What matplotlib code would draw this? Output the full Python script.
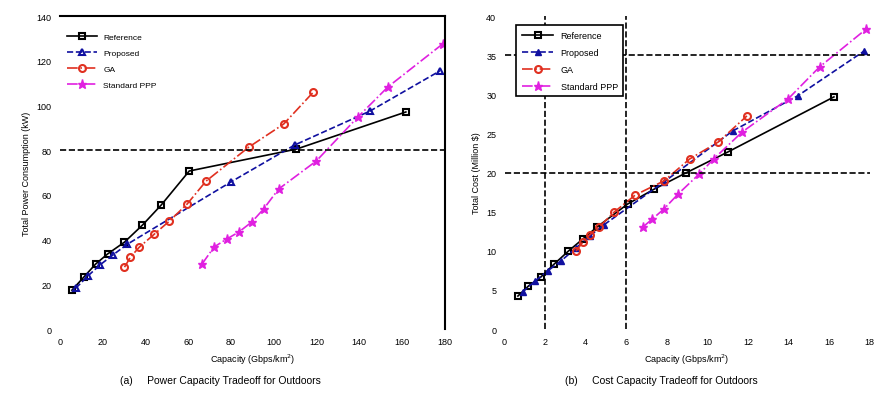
import matplotlib
matplotlib.use("Agg")
import matplotlib.pyplot as plt

plt.rcParams['font.family'] = ['Liberation Sans', 'DejaVu Sans']

labels = ["Reference", "Proposed", "GA", "Standard PPP"]

# (a) power vs capacity
pa_ref_x = [5.6, 11.2, 16.7, 22.3, 30.2, 38.6, 47.4, 60.5, 110.7, 161.9]
pa_ref_y = [17.4, 23.3, 29.1, 33.6, 38.9, 46.5, 55.5, 70.7, 80.5, 97.1]
pa_pro_x = [7.4, 13.0, 18.6, 24.7, 31.6, 80.0, 109.8, 145.1, 177.7]
pa_pro_y = [18.3, 23.7, 28.6, 33.1, 38.0, 65.8, 82.3, 97.5, 115.4]
pa_ga_x = [30.2, 33.0, 37.2, 44.2, 51.2, 59.5, 68.4, 88.4, 104.7, 118.6]
pa_ga_y = [27.7, 32.2, 36.7, 42.5, 48.3, 55.9, 66.2, 81.4, 91.7, 106.0]
pa_ppp_x = [66.5, 72.1, 78.1, 83.7, 89.8, 95.3, 102.3, 120.0, 139.5, 153.5, 179.1]
pa_ppp_y = [29.1, 36.7, 40.3, 43.4, 47.9, 53.7, 62.6, 75.2, 94.9, 108.3, 127.5]

# (b) cost vs capacity
pb_ref_x = [0.66, 1.18, 1.79, 2.45, 3.15, 3.86, 4.56, 6.07, 7.39, 8.94, 11.01, 16.24]
pb_ref_y = [4.22, 5.50, 6.65, 8.31, 9.97, 11.51, 13.04, 15.98, 17.90, 19.95, 22.63, 29.67]
pb_pro_x = [0.89, 1.51, 2.12, 2.78, 3.53, 4.19, 4.89, 7.86, 11.25, 14.45, 17.74]
pb_pro_y = [4.73, 6.14, 7.42, 8.70, 10.36, 11.89, 13.30, 18.80, 25.32, 29.80, 35.55]
pb_ga_x = [3.53, 3.86, 4.19, 4.66, 5.41, 6.45, 7.86, 9.13, 10.54, 11.95]
pb_ga_y = [9.97, 11.13, 12.02, 13.04, 14.96, 17.14, 18.93, 21.74, 23.91, 27.24]
pb_ppp_x = [6.82, 7.29, 7.86, 8.56, 9.60, 10.31, 11.72, 13.98, 15.53, 17.84]
pb_ppp_y = [13.04, 14.07, 15.35, 17.26, 19.82, 21.74, 25.19, 29.41, 33.50, 38.36]

a_xticks = list(range(0, 181, 20))
a_yticks = list(range(0, 141, 20))
b_xticks = list(range(0, 19, 2))
b_yticks = list(range(0, 41, 5))

fig = plt.figure(figsize=(8.82, 4.06), dpi=100)
ax1 = fig.add_axes([0.068, 0.187, 0.436, 0.771])
ax2 = fig.add_axes([0.572, 0.187, 0.414, 0.771])

ms = 5
ax1.plot(pa_ref_x, pa_ref_y, '-', color='black', lw=1.2, marker='s', ms=ms,
         mfc='none', mew=1.5, label=labels[0])
ax1.plot(pa_pro_x, pa_pro_y, '--', color='#1010a0', lw=1.2, marker='^', ms=ms,
         mfc='none', mew=1.5, label=labels[1])
ax1.plot(pa_ga_x, pa_ga_y, '-.', color='#e03020', lw=1.2, marker='o', ms=ms,
         mfc='none', mew=1.5, label=labels[2])
ax1.plot(pa_ppp_x, pa_ppp_y, '-.', color='#e020e0', lw=1.2, marker='*', ms=ms + 1.5,
         label=labels[3])
ax1.axhline(80, color='black', ls='--', lw=1.2)
ax1.set_xlim(0, 180)
ax1.set_ylim(0, 140)
ax1.set_xticks(a_xticks)
ax1.set_yticks(a_yticks)
ax1.set_xlabel("Capacity (Gbps/km$^2$)", fontsize=6.5)
ax1.set_ylabel("Total Power Consumption (kW)", fontsize=6.5)
ax1.legend(loc='upper left', fontsize=6, frameon=False, handlelength=3.5,
           labelspacing=1.0, bbox_to_anchor=(0.0, 0.97))
fig.text(0.25, 0.055, "(a)     Power Capacity Tradeoff for Outdoors",
         ha='center', fontsize=7.5)

ax2.plot(pb_ref_x, pb_ref_y, '-', color='black', lw=1.2, marker='s', ms=ms,
         mfc='none', mew=1.5, label=labels[0])
ax2.plot(pb_pro_x, pb_pro_y, '--', color='#1010a0', lw=1.2, marker='^', ms=ms,
         label=labels[1])
ax2.plot(pb_ga_x, pb_ga_y, '-.', color='#e03020', lw=1.2, marker='o', ms=ms,
         mfc='none', mew=1.5, label=labels[2])
ax2.plot(pb_ppp_x, pb_ppp_y, '-.', color='#e020e0', lw=1.2, marker='*', ms=ms + 1.5,
         label=labels[3])
ax2.axhline(20, color='black', ls='--', lw=1.2)
ax2.axhline(35, color='black', ls='--', lw=1.2)
ax2.axvline(2, color='black', ls='--', lw=1.2)
ax2.axvline(6, color='black', ls='--', lw=1.2)
ax2.set_xlim(0, 18)
ax2.set_ylim(0, 40)
ax2.set_xticks(b_xticks)
ax2.set_yticks(b_yticks)
ax2.set_xlabel("Capacity (Gbps/km$^2$)", fontsize=6.5)
ax2.set_ylabel("Total Cost (Million $)", fontsize=6.5)
leg = ax2.legend(loc='upper left', fontsize=6.5, fancybox=False,
                 handlelength=3.5, labelspacing=0.9, borderpad=0.6,
                 bbox_to_anchor=(0.02, 0.985))
leg.get_frame().set_edgecolor('black')
leg.get_frame().set_linewidth(1.2)
leg.get_frame().set_alpha(1)
fig.text(0.75, 0.055, "(b)     Cost Capacity Tradeoff for Outdoors",
         ha='center', fontsize=7.5)

for ax in (ax1, ax2):
    ax.tick_params(labelsize=6.5, length=0, pad=6)
    ax.spines['left'].set_visible(False)
    ax.spines['bottom'].set_visible(False)
ax2.spines['top'].set_visible(False)
ax2.spines['right'].set_visible(False)
ax1.spines['top'].set_linewidth(1.5)
ax1.spines['right'].set_linewidth(1.5)

fig.savefig("out.png", dpi=100)
